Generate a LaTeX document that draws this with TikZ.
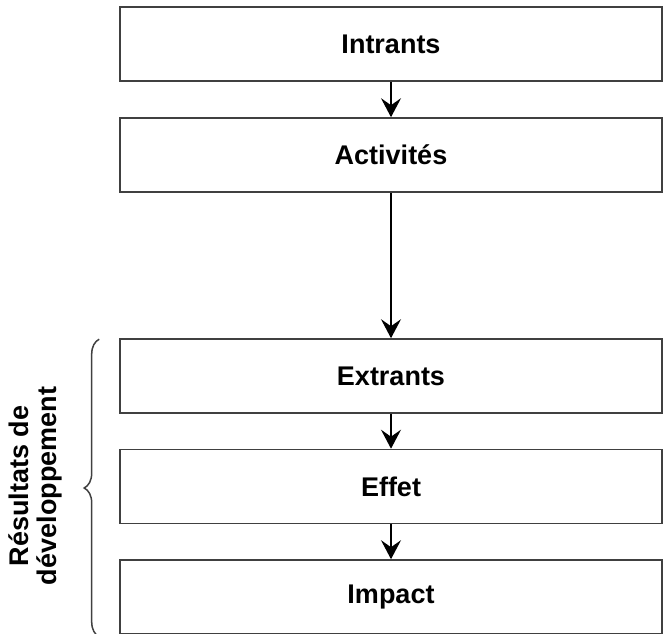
\documentclass[tikz,border=0pt]{standalone}
\usepackage{fontspec}
\setmainfont{Liberation Sans}
\usetikzlibrary{arrows.meta,decorations.pathreplacing}

\begin{document}
\begin{tikzpicture}[x=1pt, y=-1pt,
                    every node/.style={font=\fontsize{27}{28}\selectfont\bfseries},
                    etape/.style={draw=black!75, line width=1.6pt, minimum width=542pt,
                                  minimum height=74pt, inner sep=0pt},
                    fleche/.style={-{Stealth[length=19pt, width=20pt, inset=7pt]}, line width=1.6pt}]
                    \useasboundingbox (0,0) rectangle (664,634);

                    \node[etape] (int) at (391,44) {Intrants};
                    \node[etape] (act) at (391,155) {Activités};
                    \node[etape] (ext) at (391,376) {Extrants};
                    \node[etape] (eff) at (391,486.5) {Effet};
                    \node[etape] (imp) at (391,597) {Impact};

                    \draw[fleche] (int) -- (act);
                    \draw[fleche] (act) -- (ext);
                    \draw[fleche] (ext) -- (eff);
                    \draw[fleche] (eff) -- (imp);

                    \draw[decorate, decoration={brace, amplitude=15pt}, line width=1.5pt, draw=black!75]
                        ([xshift=-20pt, yshift=-2pt]imp.south west) -- ([xshift=-20pt, yshift=-1pt]ext.north west);
                    \node[rotate=90, align=center] (res) at (35,486) {Résultats de\\développement};
                \end{tikzpicture}
\end{document}
